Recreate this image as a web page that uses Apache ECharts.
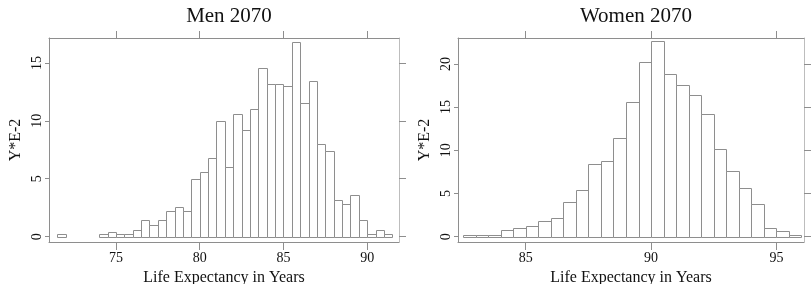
<!DOCTYPE html>
<html>
<head>
<meta charset="utf-8">
<script src="https://cdn.jsdelivr.net/npm/echarts@6/dist/echarts.min.js"></script>
<style>
html,body{margin:0;padding:0;background:#fff;}
#c{width:811px;height:284px;}
</style>
</head>
<body>
<div id="c"></div>
<script>
// ---- Data ----
var BIN_WIDTH = 0.5;
var menBinStart = [71.5,72,72.5,73,73.5,74,74.5,75,75.5,76,76.5,77,77.5,78,78.5,79,79.5,80,80.5,81,81.5,82,82.5,83,83.5,84,84.5,85,85.5,86,86.5,87,87.5,88,88.5,89,89.5,90,90.5,91];
var menValues   = [0.2,0,0,0,0,0.2,0.4,0.2,0.2,0.6,1.4,1.0,1.4,2.2,2.6,2.2,5.0,5.6,6.8,10.0,6.0,10.6,9.2,11.0,14.6,13.2,13.2,13.0,16.8,11.5,13.4,8.0,7.4,3.2,2.8,3.6,1.4,0.2,0.6,0.2];
var womenBinStart = [82.5,83,83.5,84,84.5,85,85.5,86,86.5,87,87.5,88,88.5,89,89.5,90,90.5,91,91.5,92,92.5,93,93.5,94,94.5,95,95.5];
var womenValues   = [0.2,0.2,0.2,0.8,1.0,1.2,1.85,2.2,4.0,5.4,8.4,8.8,11.4,15.6,20.2,22.6,18.8,17.6,16.4,14.2,10.2,7.6,5.6,3.8,1.0,0.6,0.2];
var menXTicks = [75,80,85,90];
var menYTicks = [0,5,10,15];
var womenXTicks = [85,90,95];
var womenYTicks = [0,5,10,15,20];
var titles = ['Men 2070','Women 2070'];
var xName = 'Life Expectancy in Years';
var yName = 'Y*E-2';

// ---- Styles ----
var FONT = '"Liberation Serif","Times New Roman",serif';
var TXT = '#111111';
var LINE = '#8e8e8e';

function pairs(starts, vals){
  return starts.map(function(s,i){ return [s, vals[i]]; });
}
function renderItem(params, api){
  var x0 = api.value(0), v = api.value(1);
  if (!v) return null;
  var p0 = api.coord([x0, 0]);
  var p1 = api.coord([x0 + BIN_WIDTH, v]);
  var xl = Math.round(p0[0]) + 0.5, xr = Math.round(p1[0]) + 0.5;
  var yb = Math.round(p0[1]) + 0.5, yt = Math.round(p1[1]) + 0.5;
  return {type:'rect', shape:{x:xl, y:yt, width:xr-xl, height:yb-yt},
          style:{fill:'#ffffff', stroke:LINE, lineWidth:1}};
}
function xAxes(grid, min, max, ticks){
  return [
    {type:'value', gridIndex:grid, position:'bottom', min:min, max:max,
     name:xName, nameLocation:'middle', nameGap:25,
     nameTextStyle:{fontFamily:FONT, fontSize:16, color:TXT},
     axisLine:{show:true, onZero:false, lineStyle:{color:LINE, width:1}},
     axisTick:{show:true, length:8, customValues:ticks, lineStyle:{color:LINE}},
     axisLabel:{show:true, customValues:ticks, margin:9, fontFamily:FONT, fontSize:14, color:TXT},
     splitLine:{show:false}},
    {type:'value', gridIndex:grid, position:'top', min:min, max:max,
     axisLine:{show:true, onZero:false, lineStyle:{color:LINE, width:1}},
     axisTick:{show:true, length:7, customValues:ticks, lineStyle:{color:LINE}},
     axisLabel:{show:false}, splitLine:{show:false}}
  ];
}
function yAxes(grid, min, max, ticks){
  return [
    {type:'value', gridIndex:grid, position:'left', min:min, max:max,
     name:yName, nameLocation:'middle', nameGap:25, nameRotate:90,
     nameTextStyle:{fontFamily:FONT, fontSize:16, color:TXT},
     axisLine:{show:true, onZero:false, lineStyle:{color:LINE, width:1}},
     axisTick:{show:true, length:4, customValues:ticks, lineStyle:{color:LINE}},
     axisLabel:{show:true, customValues:ticks, rotate:90, margin:5, fontFamily:FONT, fontSize:14, color:TXT},
     splitLine:{show:false}},
    {type:'value', gridIndex:grid, position:'right', min:min, max:max,
     axisLine:{show:true, onZero:false, lineStyle:{color:'#bdbdbd', width:1}},
     axisTick:{show:true, length:7, customValues:ticks, lineStyle:{color:LINE}},
     axisLabel:{show:false}, splitLine:{show:false}}
  ];
}

var chart = echarts.init(document.getElementById('c'), null, {renderer:'canvas'});
chart.setOption({
  backgroundColor:'#ffffff',
  animation:false,
  title:[
    {text:titles[0], left:224, top:1, textAlign:'center',
     textStyle:{fontFamily:FONT, fontSize:21, fontWeight:'normal', color:TXT}},
    {text:titles[1], left:631, top:1, textAlign:'center',
     textStyle:{fontFamily:FONT, fontSize:21, fontWeight:'normal', color:TXT}}
  ],
  grid:[
    {left:49, right:412, top:38, bottom:42, containLabel:false, outerBoundsMode:'none'},
    {left:458, right:7, top:38, bottom:42, containLabel:false, outerBoundsMode:'none'}
  ],
  xAxis: xAxes(0, 71, 91.9, menXTicks).concat(xAxes(1, 82.3, 96.1, womenXTicks)),
  yAxis: yAxes(0, -0.46, 17.15, menYTicks).concat(yAxes(1, -0.62, 23.0, womenYTicks)),
  series:[
    {type:'custom', xAxisIndex:0, yAxisIndex:0, renderItem:renderItem,
     data:pairs(menBinStart, menValues), clip:false},
    {type:'custom', xAxisIndex:2, yAxisIndex:2, renderItem:renderItem,
     data:pairs(womenBinStart, womenValues), clip:false}
  ]
});
</script>
</body>
</html>
